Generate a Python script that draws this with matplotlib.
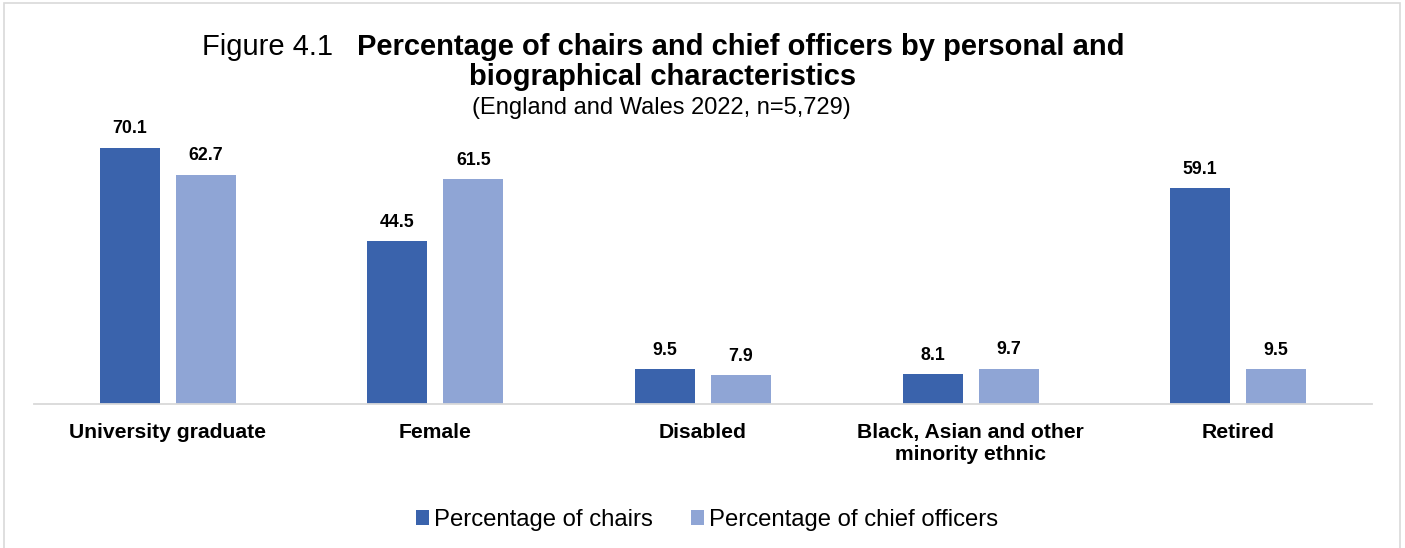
import matplotlib
matplotlib.use("Agg")
import matplotlib.pyplot as plt
import numpy as np
from matplotlib.patches import Rectangle

plt.rcParams['font.family'] = ['Liberation Sans', 'DejaVu Sans']

categories = ["University graduate", "Female", "Disabled",
              "Black, Asian and other\nminority ethnic", "Retired"]
chairs = [70.1, 44.5, 9.5, 8.1, 59.1]
officers = [62.7, 61.5, 7.9, 9.7, 9.5]
series_names = ["Percentage of chairs", "Percentage of chief officers"]

c_chairs = "#3A63AC"
c_off = "#8FA5D5"

W, H = 1405, 548
fig = plt.figure(figsize=(W / 100, H / 100), dpi=100)
ax = fig.add_axes([34 / W, 1 - 404 / H, (1372 - 34) / W, (404 - 100) / H])

x = np.arange(len(categories))
bw = 0.224
off = 0.142
b1 = ax.bar(x - off, chairs, bw, color=c_chairs, label=series_names[0])
b2 = ax.bar(x + off, officers, bw, color=c_off, label=series_names[1])

ax.set_xlim(-0.5, len(categories) - 0.5)
ax.set_ylim(0, 304 / 3.652)
for s in ["top", "right", "left"]:
    ax.spines[s].set_visible(False)
ax.spines["bottom"].set_color("#D9D9D9")
ax.spines["bottom"].set_linewidth(1.3)
ax.set_yticks([])
ax.set_xticks(x)
ax.set_xticklabels(categories, fontsize=15.2, fontweight="bold", va="top",
                   linespacing=1.2)
ax.tick_params(axis="x", length=0, pad=13.5)

for bars in (b1, b2):
    for r in bars:
        ax.annotate(f"{r.get_height():.1f}",
                    (r.get_x() + r.get_width() / 2, r.get_height()),
                    xytext=(0, 10.5), textcoords="offset points",
                    ha="center", va="baseline", fontsize=12.8, fontweight="bold")

def fy(py):
    return 1 - py / H

fig.text(333 / W, fy(55), "Figure 4.1", ha="right", va="baseline", fontsize=21)
fig.text(357 / W, fy(55), "Percentage of chairs and chief officers by personal and",
         ha="left", va="baseline", fontsize=21, fontweight="bold")
fig.text(663 / W, fy(85), "biographical characteristics", ha="center",
         va="baseline", fontsize=21, fontweight="bold")
fig.text(661 / W, fy(114), "(England and Wales 2022, n=5,729)", ha="center",
         va="baseline", fontsize=17)

leg = fig.legend(handles=[b1, b2], labels=series_names, loc="center",
                 bbox_to_anchor=(707 / W, fy(520)), ncol=2, frameon=False,
                 fontsize=17.2, handlelength=0.55, handleheight=0.55,
                 handletextpad=0.2, columnspacing=1.6)

fig.patches.append(Rectangle((4 / W, -0.1), (1400 - 4) / W, fy(3) + 0.1,
                             transform=fig.transFigure, fill=False,
                             edgecolor="#D9D9D9", linewidth=1.2))

fig.savefig("out.png", dpi=100)
